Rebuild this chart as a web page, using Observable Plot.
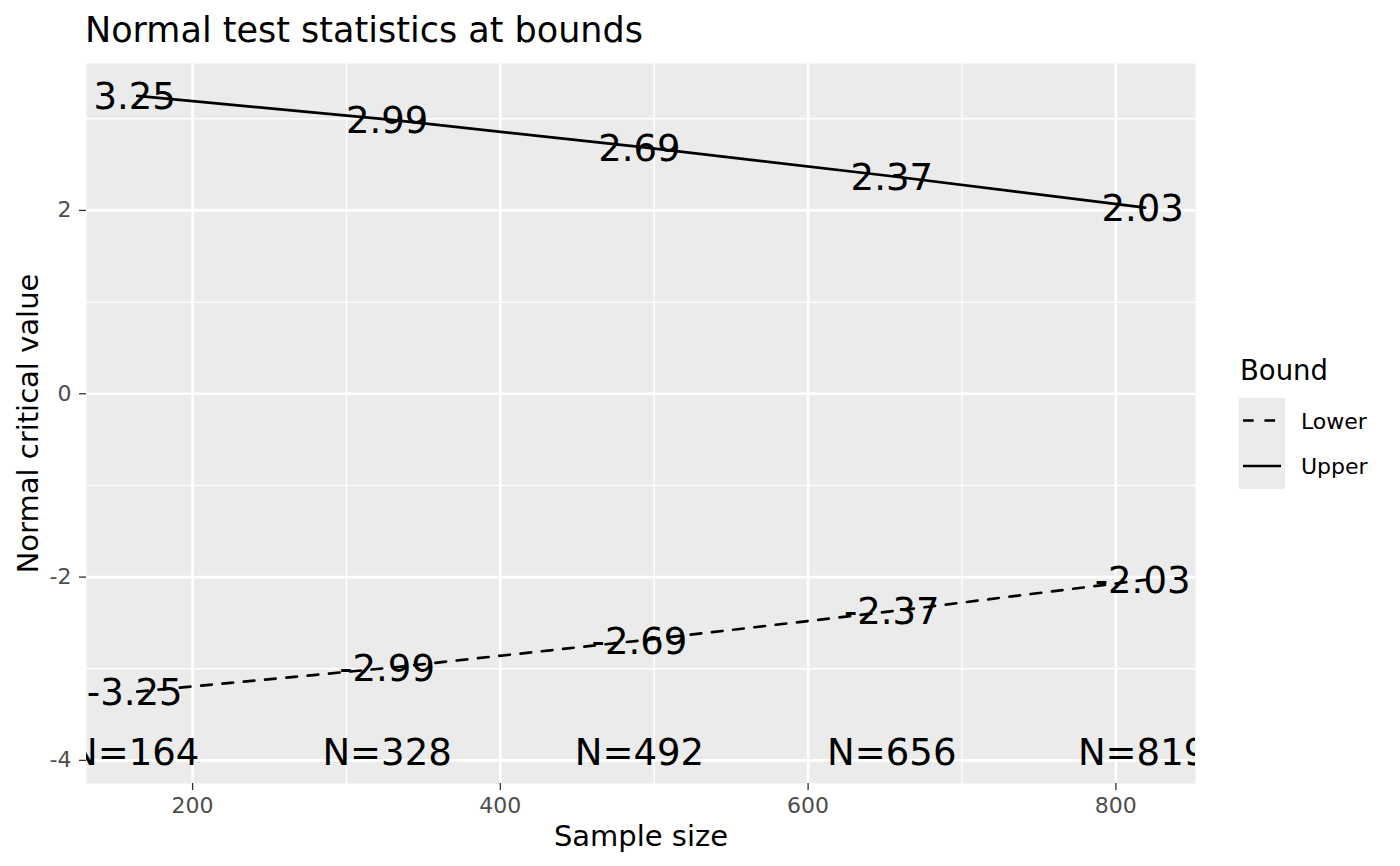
<!DOCTYPE html>
<html><head><meta charset="utf-8">
<script src="https://cdn.jsdelivr.net/npm/d3@7"></script>
<script src="https://cdn.jsdelivr.net/npm/@observablehq/plot@0.6"></script>
<style>
body{margin:0;background:#fff;font-family:"DejaVu Sans",sans-serif;}
#wrap{position:relative;width:1400px;height:866px;}
</style></head><body><div id="wrap"></div>
<script>
// ---- data ----
const sampleSize = [164, 328, 492, 656, 819];
const upperBound = [3.25, 2.99, 2.69, 2.37, 2.03];
const lowerBound = [-3.25, -2.99, -2.69, -2.37, -2.03];
const nLabelZ = -3.9;
const xMajor = [200, 400, 600, 800];
const xMinor = [300, 500, 700];
const yMajor = [-4, -2, 0, 2];
const yMinor = [-3, -1, 1, 3];
const boundNames = ["Lower", "Upper"];
const titleText = "Normal test statistics at bounds";
const xTitle = "Sample size";
const yTitle = "Normal critical value";

const upperRows = sampleSize.map((n, i) => ({n, z: upperBound[i], bound: "Upper"}));
const lowerRows = sampleSize.map((n, i) => ({n, z: lowerBound[i], bound: "Lower"}));
const nRows = sampleSize.map(n => ({n, z: nLabelZ, label: "N=" + n}));
const allRows = upperRows.concat(lowerRows);

const LW = 2.67, DASH = "10.7,10.7";

const plot = Plot.plot({
  width: 1400, height: 866,
  marginTop: 63, marginBottom: 83, marginLeft: 86, marginRight: 205,
  style: {fontFamily: "DejaVu Sans", background: "#fff", overflow: "visible"},
  x: {domain: [131.04, 851.76], label: null},
  y: {domain: [-4.252, 3.603], label: null},
  marks: [
    Plot.frame({fill: "#EBEBEB", stroke: null}),
    Plot.ruleX(xMinor, {stroke: "white", strokeWidth: 1.33}),
    Plot.ruleY(yMinor, {stroke: "white", strokeWidth: 1.33}),
    Plot.ruleX(xMajor, {stroke: "white", strokeWidth: 2.67}),
    Plot.ruleY(yMajor, {stroke: "white", strokeWidth: 2.67}),
    Plot.axisX({ticks: xMajor, tickSize: 7, tickPadding: 7, stroke: "#333333", strokeWidth: 1.33,
      fill: "#4D4D4D", fontSize: 22, label: null, tickFormat: d => String(d)}),
    Plot.axisY({ticks: yMajor, tickSize: 7, tickPadding: 8, stroke: "#333333", strokeWidth: 1.33,
      fill: "#4D4D4D", fontSize: 22, label: null, tickFormat: d => String(d)}),
    Plot.line(lowerRows, {x: "n", y: "z", stroke: "black", strokeWidth: LW, strokeDasharray: DASH, clip: true}),
    Plot.line(upperRows, {x: "n", y: "z", stroke: "black", strokeWidth: LW, clip: true}),
    Plot.text(allRows, {x: "n", y: "z", text: d => String(d.z), fontSize: 37, fill: "black", dx: -2.5, dy: 1.5, clip: true}),
    Plot.text(nRows, {x: "n", y: "z", text: "label", fontSize: 37, fill: "black", dx: -2.5, dy: 1.5, clip: true}),
    Plot.text([titleText], {frameAnchor: "top-left", textAnchor: "start", lineAnchor: "middle", dx: -1.5, dy: -33, fontSize: 35, fill: "black"}),
    Plot.text([xTitle], {frameAnchor: "bottom", textAnchor: "middle", lineAnchor: "middle", dy: 53, fontSize: 29, fill: "black"}),
    Plot.text([yTitle], {frameAnchor: "left", textAnchor: "middle", lineAnchor: "middle", rotate: -90, dx: -58, fontSize: 29, fill: "black"})
  ]
});
document.getElementById("wrap").appendChild(plot);

// ---- legend ----
const svg = d3.select(plot);
const lg = svg.append("g").attr("font-family", "DejaVu Sans").attr("text-anchor", "start");
lg.append("text").attr("x", 1240).attr("y", 380).attr("font-size", 27.5).attr("fill", "black").text("Bound");
lg.append("rect").attr("x", 1239).attr("y", 398).attr("width", 46).attr("height", 91).attr("fill", "#EBEBEB");
boundNames.forEach((name, i) => {
  const cy = 398 + i * 45.5 + 22.5;
  lg.append("line").attr("x1", 1243).attr("x2", 1281).attr("y1", cy).attr("y2", cy)
    .attr("stroke", "black").attr("stroke-width", LW)
    .attr("stroke-dasharray", name === "Lower" ? DASH : null);
  lg.append("text").attr("x", 1301).attr("y", cy + 8).attr("font-size", 22).attr("fill", "black").text(name);
});
</script></body></html>
